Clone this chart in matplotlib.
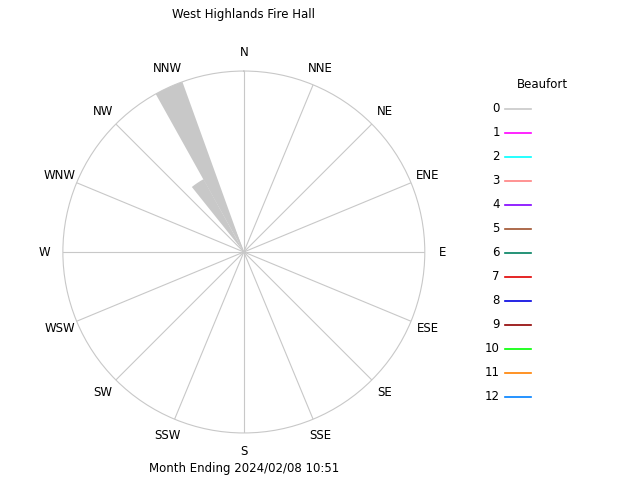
import numpy as np
import matplotlib

matplotlib.use("Agg")
import matplotlib.pyplot as plt

DIRECTIONS = ["N", "NNE", "NE", "ENE", "E", "ESE", "SE", "SSE",
              "S", "SSW", "SW", "WSW", "W", "WNW", "NW", "NNW"]
# petals: bearing of centre (deg), angular width (deg), relative length
PETAL_BEARING = [335.5, 326.2]
PETAL_WIDTH = [9.3, 9.7]
PETAL_LENGTH = [1.0, 0.46]

BEAUFORT = [str(i) for i in range(13)]
BEAUFORT_COLORS = ["#c8c8c8", "#ff00ff", "#00ffff", "#ff8080", "#8000ff", "#a0522d",
                   "#008060", "#e00000", "#0000e0", "#900000", "#00ff00", "#ff8000", "#0080ff"]

fig = plt.figure(figsize=(6.4, 4.8), dpi=100)
ax = fig.add_axes([0.381 - 0.283, 0.475 - 0.377, 0.566, 0.754], projection="polar")
ax.set_theta_zero_location("N")
ax.set_theta_direction(-1)
ax.set_ylim(0, 1)
ax.set_xticks([])
ax.set_yticks([])
ax.spines["polar"].set_color("#c8c8c8")
ax.spines["polar"].set_linewidth(0.8)
ax.grid(False)

for i, d in enumerate(DIRECTIONS):
    th = np.deg2rad(i * 22.5)
    ax.plot([th, th], [0, 1], color="#c8c8c8", lw=0.8, zorder=1)
    ax.text(th, 1.1, d, ha="center", va="center", fontsize=8.5)

ax.bar(np.deg2rad(PETAL_BEARING), PETAL_LENGTH, width=np.deg2rad(PETAL_WIDTH),
       color=BEAUFORT_COLORS[0], edgecolor="none", zorder=2)

fig.text(0.381, 0.97, "West Highlands Fire Hall", ha="center", va="center", fontsize=8.5)
fig.text(0.381, 0.024, "Month Ending 2024/02/08 10:51", ha="center", va="center", fontsize=8.5)

fig.text(0.847, 0.823, "Beaufort", ha="center", va="center", fontsize=8.5)
for i, (lab, c) in enumerate(zip(BEAUFORT, BEAUFORT_COLORS)):
    y = 1 - (109 + i * 24) / 480
    fig.text(0.781, y, lab, ha="right", va="center", fontsize=8.5)
    fig.add_artist(plt.Line2D([0.789, 0.83], [y, y], color=c, lw=1.2, transform=fig.transFigure))

fig.savefig("out.png", dpi=100)
